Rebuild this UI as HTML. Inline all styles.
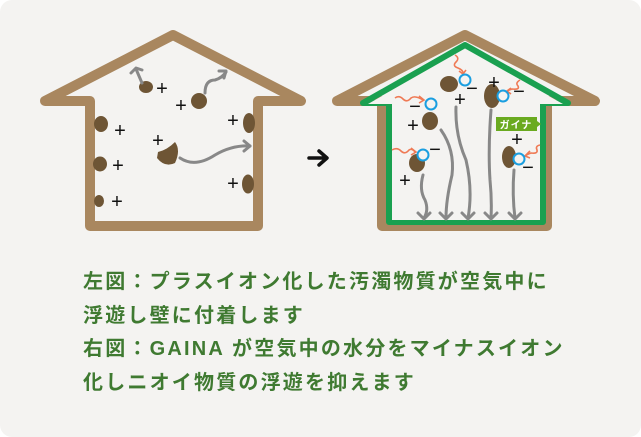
<!DOCTYPE html>
<html><head><meta charset="utf-8"><style>
html,body{margin:0;padding:0;background:#fff}
.p{position:relative;width:641px;height:437px;background:#f4f3f1;border-radius:12px;overflow:hidden}
svg{position:absolute;left:0;top:0}
.t{position:absolute;left:83px;top:266px;font-family:"Liberation Sans","Noto Sans CJK JP",sans-serif;font-size:20px;font-weight:bold;line-height:33.5px;color:#3f7a31;letter-spacing:2.2px;white-space:pre}
</style></head><body><div class="p">
<svg width="641" height="437" viewBox="0 0 641 437">
<g fill="none" stroke="#a9875f" stroke-width="10" stroke-linejoin="round" stroke-linecap="round">
<path d="M45 101 L173 35 L301 101 L258 101 L258 226 L90 226 L90 101 Z"/>
<path d="M337 101 L465 35 L595 101 L547 101 L547 226 L382 226 L382 101 Z"/>
</g>
<path d="M363 103 L465 45 L568 103 L543 103 L543 222 L389 222 L389 103 Z" fill="none" stroke="#1aa050" stroke-width="6" stroke-linejoin="round"/>
<path d="M368 104 L465 49 L563 104 Z" fill="#f4f3f1"/>
<rect x="392" y="102" width="148" height="118" fill="#f4f3f1"/>
<g fill="#6e5535">
<ellipse cx="146" cy="87" rx="7" ry="6"/>
<ellipse cx="199" cy="101" rx="8" ry="8"/>
<ellipse cx="101" cy="124" rx="7" ry="8"/>
<ellipse cx="100" cy="164" rx="7" ry="7.5"/>
<ellipse cx="99" cy="201" rx="5" ry="6"/>
<ellipse cx="249" cy="123" rx="6" ry="10"/>
<ellipse cx="248" cy="184" rx="6" ry="9.5"/>
<path d="M158 152 Q167 150 175 142 Q181 150 175 163 Q165 168 157 158 Z"/>
<ellipse cx="430" cy="121" rx="8" ry="9"/>
<ellipse cx="449" cy="84" rx="9" ry="8"/>
<ellipse cx="417" cy="163" rx="8" ry="9"/>
<ellipse cx="492" cy="96" rx="8" ry="12"/>
<ellipse cx="509" cy="157" rx="7" ry="11"/>
</g>
<g font-family="Liberation Sans,sans-serif" font-size="20" fill="#111" text-anchor="middle">
<text x="162" y="95">+</text><text x="181" y="112">+</text><text x="120" y="137">+</text>
<text x="118" y="172">+</text><text x="117" y="208">+</text><text x="233" y="127">+</text>
<text x="233" y="190">+</text><text x="158" y="147">+</text>
<text x="460" y="106">+</text><text x="413" y="132">+</text><text x="405" y="187">+</text>
<text x="494" y="89">+</text><text x="517" y="146">+</text>
<text x="472" y="95">−</text><text x="415" y="113">−</text><text x="435" y="156">−</text>
<text x="519" y="98">−</text><text x="528" y="174">−</text>
</g>
<g fill="none" stroke="#888" stroke-width="3" stroke-linecap="round" stroke-linejoin="round">
<path d="M142 83 L136 69"/><path d="M131 73 L136 68 L142 70"/>
<path d="M205 93 Q205 80 215 80 Q222 78 226 72"/><path d="M219 71 L226 71 L224 78"/>
<path d="M180 158 Q195 168 215 155 Q232 145 250 146"/><path d="M244 141 L250 146 L244 151"/>
<path d="M423 175 Q419 190 425 200 Q429 210 424 218"/><path d="M418 213 L424 219 L430 213"/>
<path d="M441 130 Q455 150 452 175 Q446 200 446 218"/><path d="M440 213 L446 219 L452 213"/>
<path d="M456 107 Q455 135 466 160 Q473 190 468 218"/><path d="M462 213 L468 219 L474 213"/>
<path d="M491 110 Q488 150 490 180 Q492 200 491 218"/><path d="M485 213 L491 219 L497 213"/>
<path d="M514 170 Q512 195 515 218"/><path d="M509 213 L515 219 L521 213"/>
</g>
<g fill="none" stroke="#ef7a55" stroke-width="1.6">
<path d="M455 55 Q460 58 456 62 Q452 66 458 68 Q463 70 463 73"/><path d="M459 71 L463 74 L466 70"/>
<path d="M395 98 Q399 95 403 99 Q407 103 411 98 Q415 95 423 100"/><path d="M419 96 L424 100 L419 103"/>
<path d="M392 150 Q397 147 401 151 Q405 155 409 150 Q412 148 415 152"/><path d="M411 148 L416 152 L411 155"/>
<path d="M520 80 Q515 83 518 86 Q520 90 512 89 Q509 90 507 91"/><path d="M511 88 L507 91 L511 94"/>
<path d="M540 145 Q535 146 537 150 Q538 154 531 153 Q528 154 525 156"/><path d="M530 151 L525 156 L530 158"/>
</g>
<g fill="#f4f3f1" stroke="#1a9ee0" stroke-width="2">
<circle cx="465" cy="80" r="5.5"/><circle cx="431" cy="104" r="5.5"/><circle cx="423" cy="155" r="5.5"/>
<circle cx="503" cy="96" r="5.5"/><circle cx="519" cy="159" r="5.5"/>
</g>
<path d="M496 117 H537 V121 L541 124 L537 127 V131 H496 Z" fill="#6aaa20"/>
<text x="516" y="128.5" font-family="Liberation Sans,Noto Sans CJK JP,sans-serif" font-size="10" font-weight="bold" fill="#fff" text-anchor="middle" letter-spacing="1">ガイナ</text>
<path d="M309 158 H326 M319 151 L327 158 L319 165" fill="none" stroke="#111" stroke-width="3.5" stroke-linecap="round" stroke-linejoin="round"/>
</svg>
<div class="t">左図：プラスイオン化した汚濁物質が空気中に
浮遊し壁に付着します
右図：GAINA が空気中の水分をマイナスイオン
化しニオイ物質の浮遊を抑えます</div>
</div></body></html>
